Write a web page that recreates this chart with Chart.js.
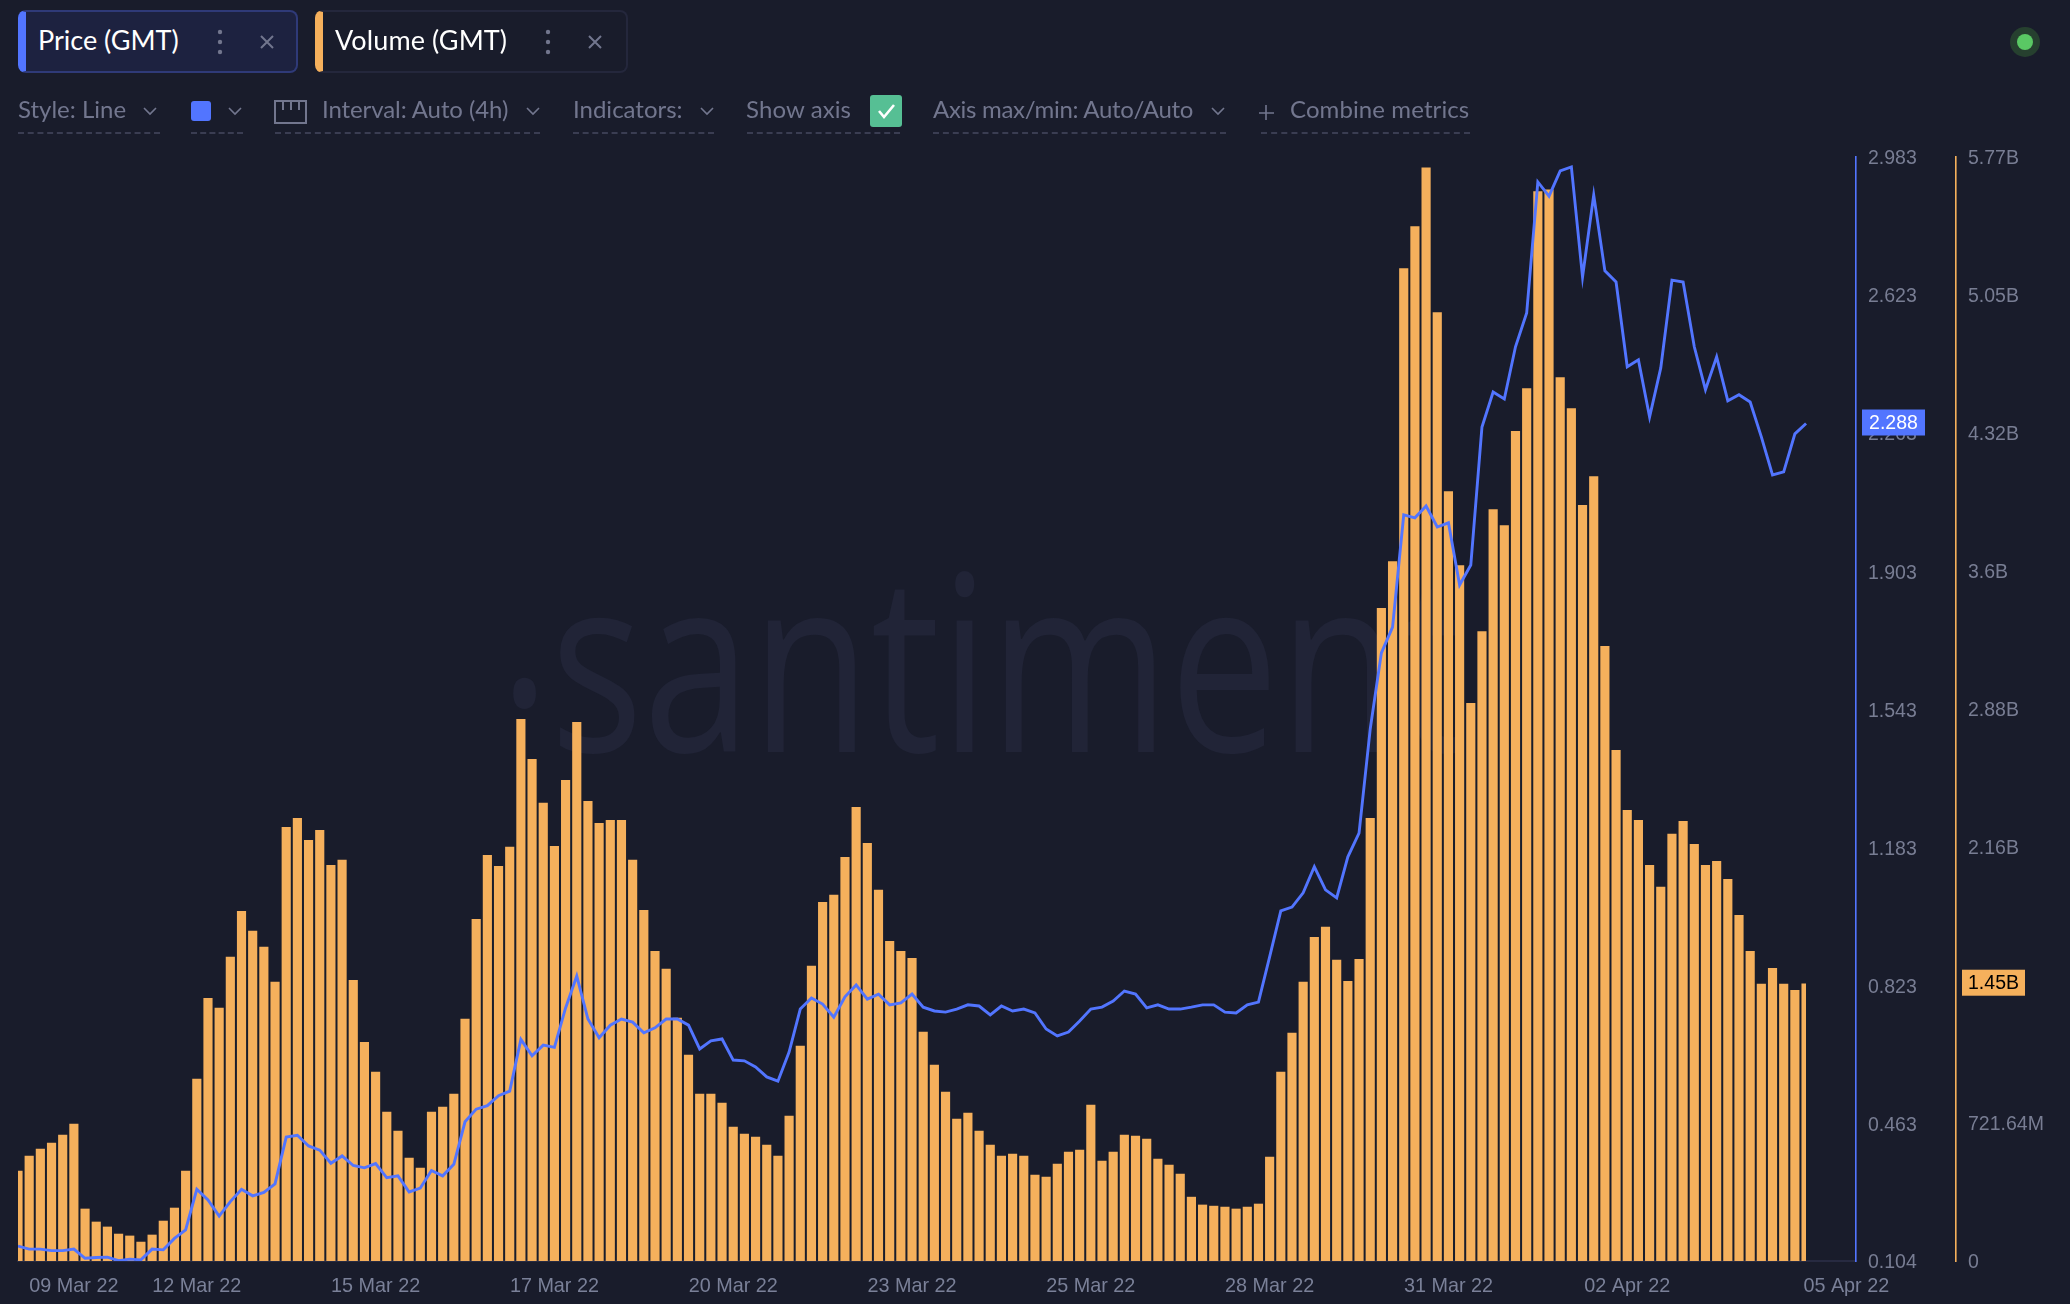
<!DOCTYPE html>
<html>
<head>
<meta charset="utf-8">
<title>Price and Volume (GMT)</title>
<script src="https://cdn.jsdelivr.net/npm/chart.js@4"></script>
<style>
html,body{margin:0;padding:0;background:#191c2b;width:2070px;height:1304px;overflow:hidden;font-family:Lato,"Liberation Sans",sans-serif}
#stage{position:relative;width:2070px;height:1304px;overflow:hidden}
#mark{position:absolute;font-family:"Open Sans";font-size:245px;line-height:1;color:#212437;white-space:nowrap;transform-origin:0 0}
#mark span{position:relative;top:-46px}
canvas{position:absolute;left:0;top:0}
.tab{position:absolute;top:10px;height:63px;box-sizing:border-box;border-radius:8px}
.tt{position:absolute;top:20px;font-size:27px;line-height:40px;color:#fff;white-space:nowrap}
.ctl{position:absolute;top:94px;font-size:24px;line-height:30px;color:#72768e;white-space:nowrap}
.dash{position:absolute;top:132px;height:0;border-top:2px dashed #3a3d52}
svg{position:absolute;overflow:visible}
</style>
</head>
<body>
<div id="stage">
  <div id="mark" style="left:499px;top:535px;transform:scaleX(.795)"><span>.</span>santiment</div>
  <canvas id="c" width="2070" height="1304" style="width:2070px;height:1304px"></canvas>

  <div class="tab" style="left:18px;width:280px;background:#1d2240;border:2px solid #2f3a78;border-left:8px solid #5275ff"></div>
  <div class="tab" style="left:315px;width:313px;border:2px solid #24273c;border-left:8px solid #f5b05c"></div>
  <div class="tt" style="left:38px">Price (GMT)</div>
  <div class="tt" style="left:335px;letter-spacing:.1px">Volume (GMT)</div>
  <svg style="left:0;top:0" width="2070" height="140" fill="none" stroke="#72768e" stroke-width="1.6">
    <g fill="#72768e" stroke="none">
      <circle cx="220" cy="32" r="2.2"/><circle cx="220" cy="42" r="2.2"/><circle cx="220" cy="52" r="2.2"/>
      <circle cx="548" cy="32" r="2.2"/><circle cx="548" cy="42" r="2.2"/><circle cx="548" cy="52" r="2.2"/>
    </g>
    <path d="M261 36l12 12M273 36l-12 12M589 36l12 12M601 36l-12 12" stroke-width="2"/>
    <path d="M144 108l6 6 6-6M229 108l6 6 6-6M527 108l6 6 6-6M701 108l6 6 6-6M1212 108l6 6 6-6"/>
    <rect x="275" y="101" width="31" height="22" stroke-width="2"/>
    <path d="M283 101v9M291 101v9M299 101v9" stroke-width="2"/>
    <path d="M1266 105v15M1259 113h15"/>
    <rect x="191" y="101" width="20" height="20" rx="3" fill="#5275ff" stroke="none"/>
    <rect x="870" y="95" width="32" height="32" rx="3" fill="#56bf94" stroke="none"/>
    <path d="M879 111l5 6 10-12" stroke="#fff" stroke-width="2.6"/>
    <circle cx="2025" cy="42" r="15" fill="#26402f" stroke="none"/>
    <circle cx="2025" cy="42" r="8" fill="#5ac864" stroke="none"/>
  </svg>
  <div class="ctl" style="left:18px">Style: Line</div>
  <div class="ctl" style="left:322px;letter-spacing:-.1px">Interval: Auto (4h)</div>
  <div class="ctl" style="left:573px">Indicators:</div>
  <div class="ctl" style="left:746px;letter-spacing:.1px">Show axis</div>
  <div class="ctl" style="left:933px;letter-spacing:-.3px">Axis max/min: Auto/Auto</div>
  <div class="ctl" style="left:1290px;letter-spacing:.1px">Combine metrics</div>
  <div class="dash" style="left:18px;width:142px"></div>
  <div class="dash" style="left:191px;width:52px"></div>
  <div class="dash" style="left:275px;width:265px"></div>
  <div class="dash" style="left:573px;width:141px"></div>
  <div class="dash" style="left:747px;width:153px"></div>
  <div class="dash" style="left:933px;width:293px"></div>
  <div class="dash" style="left:1261px;width:209px"></div>
</div>
<script>
// Volume (GMT), billions, one value per 4h bucket
const volumeB = [
0.470,0.549,0.585,0.617,0.659,0.716,0.272,0.204,0.178,0.141,
0.131,0.099,0.136,0.209,0.277,0.470,0.951,1.374,1.322,1.589,
1.829,1.725,1.641,1.458,2.268,2.315,2.200,2.252,2.069,2.096,
1.468,1.144,0.988,0.779,0.679,0.538,0.486,0.779,0.805,0.873,
1.265,1.787,2.122,2.064,2.164,2.833,2.623,2.394,2.169,2.514,
2.817,2.404,2.289,2.305,2.305,2.096,1.834,1.620,1.526,1.270,
1.077,0.873,0.873,0.826,0.700,0.664,0.648,0.606,0.549,0.758,
1.124,1.542,1.876,1.913,2.111,2.373,2.184,1.939,1.672,1.620,
1.583,1.197,1.024,0.883,0.742,0.773,0.679,0.606,0.549,0.559,
0.549,0.449,0.439,0.507,0.570,0.580,0.815,0.523,0.570,0.659,
0.653,0.638,0.533,0.502,0.455,0.334,0.293,0.287,0.282,0.272,
0.282,0.298,0.544,0.988,1.192,1.458,1.693,1.746,1.573,1.463,
1.578,2.315,3.413,3.658,5.190,5.409,5.717,4.960,4.024,3.637,
2.916,3.292,3.930,3.846,4.338,4.562,5.592,5.602,4.620,4.458,
3.951,4.102,3.214,2.670,2.357,2.305,2.069,1.955,2.232,2.299,
2.179,2.069,2.090,1.996,1.808,1.620,1.448,1.531,1.448,1.416,
1.450];
// Price (GMT), one value per 4h bucket
const priceGMT = [
0.143,0.135,0.135,0.131,0.131,0.135,0.111,0.113,0.114,0.105,
0.109,0.107,0.135,0.133,0.163,0.185,0.291,0.263,0.221,0.259,
0.291,0.274,0.283,0.305,0.427,0.432,0.404,0.393,0.359,0.378,
0.353,0.347,0.358,0.321,0.326,0.284,0.294,0.340,0.326,0.356,
0.467,0.500,0.509,0.535,0.547,0.682,0.639,0.667,0.661,0.764,
0.847,0.735,0.686,0.719,0.735,0.727,0.699,0.712,0.735,0.735,
0.719,0.657,0.678,0.683,0.628,0.626,0.610,0.584,0.573,0.649,
0.761,0.790,0.774,0.740,0.793,0.824,0.787,0.800,0.772,0.777,
0.800,0.766,0.756,0.753,0.761,0.772,0.769,0.746,0.769,0.756,
0.761,0.751,0.709,0.691,0.701,0.730,0.761,0.766,0.782,0.808,
0.800,0.764,0.772,0.761,0.761,0.766,0.772,0.772,0.753,0.751,
0.772,0.779,0.897,1.017,1.027,1.064,1.132,1.072,1.051,1.158,
1.220,1.491,1.690,1.757,2.050,2.042,2.073,2.018,2.029,1.867,
1.919,2.279,2.370,2.352,2.488,2.576,2.918,2.881,2.947,2.957,
2.670,2.884,2.686,2.657,2.436,2.454,2.305,2.433,2.662,2.657,
2.488,2.376,2.462,2.347,2.363,2.344,2.253,2.154,2.162,2.261,
2.288];
// X axis labels and the bucket they sit under
const dateLabels = ["09 Mar 22","12 Mar 22","15 Mar 22","17 Mar 22","20 Mar 22","23 Mar 22","25 Mar 22","28 Mar 22","31 Mar 22","02 Apr 22","05 Apr 22"];
const dateTicks = [5,16,32,48,64,80,96,112,128,144,163.6];
// Right axes
const priceTicks = [0.104,0.463,0.823,1.183,1.543,1.903,2.263,2.623,2.983];
const priceTickLabels = ["0.104","0.463","0.823","1.183","1.543","1.903","2.263","2.623","2.983"];
const volumeTicks = [0,0.72164,1.44328,2.16492,2.88656,3.6082,4.32984,5.05148,5.77312];
const volumeTickLabels = ["0","721.64M","1.44B","2.16B","2.88B","3.6B","4.32B","5.05B","5.77B"];

const BLUE = "#5275ff", ORANGE = "#f5b05c", TICK = "#787d93";
const AXIS_FONT = {family:"'Liberation Sans'", size:19.5};
const DATE_FONT = {family:"'Liberation Sans'", size:19.8};

const lastTag = {
  id:"lastTag",
  afterDraw(chart){
    const c = chart.ctx;
    const tag = (scale, val, txt, bg, fg) => {
      const y = scale.getPixelForValue(val) - 1;
      const x = scale.left + 6, w = 63, h = 26;
      c.save();
      c.fillStyle = bg;
      c.fillRect(x, y - h/2, w, h);
      c.fillStyle = fg;
      c.font = "19.5px 'Liberation Sans'";
      c.textAlign = "center"; c.textBaseline = "middle";
      c.fillText(txt, x + w/2, y + 1);
      c.restore();
    };
    const p = priceGMT[priceGMT.length-1], v = volumeB[volumeB.length-1];
    tag(chart.scales.y, p, p.toFixed(3), BLUE, "#fff");
    tag(chart.scales.yv, v, v.toFixed(2)+"B", ORANGE, "#000");
  }
};

new Chart(document.getElementById("c"), {
  type:"bar",
  plugins:[lastTag],
  data:{
    datasets:[
      {type:"line", label:"Price (GMT)", yAxisID:"y", order:0,
       data:priceGMT.map((v,i)=>({x:i,y:v})),
       borderColor:BLUE, borderWidth:2.9, pointRadius:0, tension:0, fill:false, borderJoinStyle:"miter"},
      {type:"bar", label:"Volume (GMT)", yAxisID:"yv", order:1,
       data:volumeB.map((v,i)=>({x:i,y:v})),
       backgroundColor:ORANGE, borderWidth:0, barThickness:8.5,
       clip:{left:0,top:0,bottom:0,right:-50}}
    ]
  },
  options:{
    responsive:false, animation:false, devicePixelRatio:1,
    events:[],
    layout:{padding:{left:18,top:157,right:14,bottom:0}},
    plugins:{legend:{display:false},tooltip:{enabled:false},title:{display:false}},
    scales:{
      x:{type:"linear", min:0, max:164.47, offset:false,
         grid:{display:false,offset:false,drawTicks:false},
         border:{display:true,color:"#272a41",width:2},
         afterBuildTicks:s=>{s.ticks=dateTicks.map(v=>({value:v}));},
         afterFit:s=>{s.height=43;},
         ticks:{autoSkip:false,maxRotation:0,minRotation:0,padding:14,color:"#7a8098",font:DATE_FONT,
                callback:(v,i)=>dateLabels[i]}},
      y:{type:"linear", position:"right", weight:0, min:0.104, max:2.983,
         grid:{display:false,drawTicks:false},
         border:{display:true,color:BLUE,width:1.6},
         afterBuildTicks:s=>{s.ticks=priceTicks.map(v=>({value:v}));},
         afterFit:s=>{s.width=100;},
         ticks:{autoSkip:false,align:"center",crossAlign:"near",padding:12,labelOffset:2,color:TICK,font:AXIS_FONT,
                callback:(v,i)=>priceTickLabels[i]}},
      yv:{type:"linear", position:"right", weight:1, min:0, max:5.77312,
         grid:{display:false,drawTicks:false},
         border:{display:true,color:ORANGE,width:1.6},
         afterBuildTicks:s=>{s.ticks=volumeTicks.map(v=>({value:v}));},
         afterFit:s=>{s.width=100;},
         ticks:{autoSkip:false,align:"center",crossAlign:"near",padding:12,labelOffset:2,color:TICK,font:AXIS_FONT,
                callback:(v,i)=>volumeTickLabels[i]}}
    }
  }
});
</script>
</body>
</html>
